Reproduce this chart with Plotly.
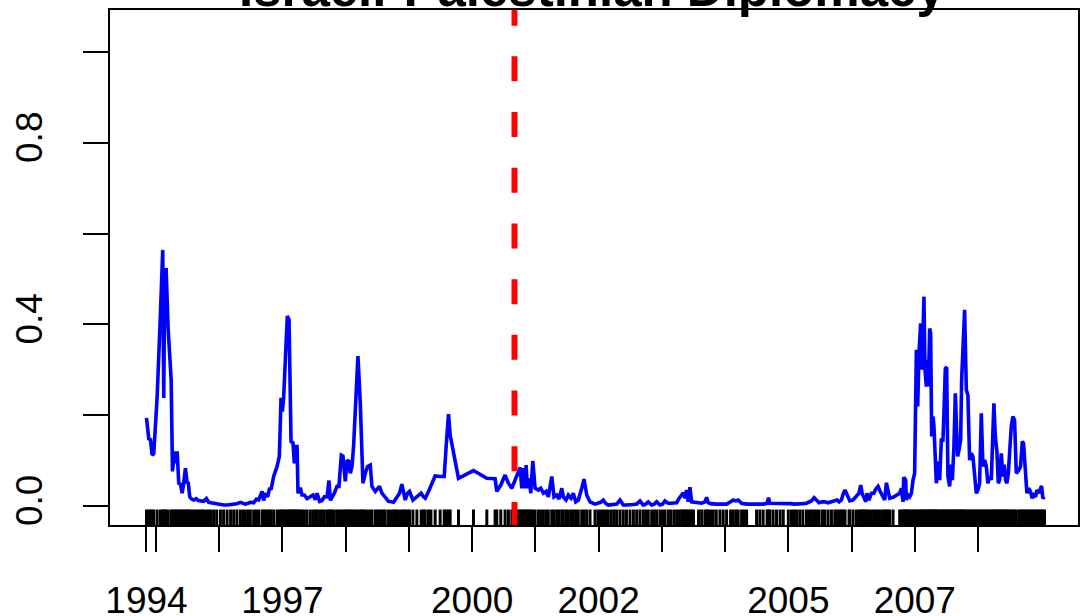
import plotly.graph_objects as go

# ---------------- data (decimal years, estimated probability) ----------------
dates_a = [1994.850, 1994.886, 1994.913, 1994.940, 1994.965, 1995.019, 1995.071, 1995.107, 1995.123, 1995.139,
           1995.161, 1995.193, 1995.240, 1995.261, 1995.292, 1995.313, 1995.335, 1995.360, 1995.387, 1995.414,
           1995.439, 1995.466, 1995.493, 1995.509, 1995.534, 1995.565, 1995.597, 1995.635, 1995.670, 1995.703,
           1995.730, 1995.755, 1995.798, 1995.834, 1995.870, 1995.913, 1995.960, 1996.019, 1996.070, 1996.125,
           1996.180, 1996.229, 1996.280, 1996.335, 1996.375, 1996.414, 1996.455, 1996.493, 1996.545, 1996.588,
           1996.624, 1996.678, 1996.703, 1996.730, 1996.766, 1996.798, 1996.820, 1996.861, 1996.915, 1996.951,
           1996.978, 1996.998, 1997.019, 1997.051, 1997.077, 1997.104, 1997.125, 1997.136, 1997.167, 1997.188,
           1997.209, 1997.231, 1997.246, 1997.283, 1997.310, 1997.346, 1997.389, 1997.441, 1997.483, 1997.520,
           1997.547, 1997.588, 1997.626, 1997.662, 1997.705, 1997.736, 1997.757, 1997.788, 1997.820, 1997.863,
           1997.894, 1997.931, 1997.957, 1997.994, 1998.021, 1998.046, 1998.073, 1998.100, 1998.125, 1998.163,
           1998.194, 1998.231, 1998.257, 1998.273, 1998.310, 1998.346, 1998.389]
values_a = [0.194, 0.148, 0.146, 0.112, 0.115, 0.241, 0.425, 0.564, 0.238, 0.520,
            0.520, 0.388, 0.278, 0.076, 0.120, 0.094, 0.120, 0.050, 0.048, 0.028,
            0.050, 0.083, 0.050, 0.053, 0.020, 0.015, 0.013, 0.016, 0.012, 0.012,
            0.011, 0.010, 0.016, 0.008, 0.007, 0.006, 0.004, 0.002, 0.002, 0.002,
            0.003, 0.004, 0.005, 0.008, 0.005, 0.004, 0.006, 0.008, 0.007, 0.015,
            0.013, 0.032, 0.012, 0.028, 0.020, 0.040, 0.036, 0.065, 0.087, 0.109,
            0.238, 0.208, 0.238, 0.344, 0.418, 0.411, 0.241, 0.142, 0.139, 0.094,
            0.131, 0.131, 0.028, 0.040, 0.024, 0.024, 0.016, 0.020, 0.024, 0.014,
            0.028, 0.010, 0.012, 0.020, 0.020, 0.056, 0.012, 0.020, 0.028, 0.043,
            0.043, 0.112, 0.110, 0.054, 0.098, 0.101, 0.072, 0.087, 0.131, 0.241,
            0.330, 0.227, 0.120, 0.050, 0.072, 0.087, 0.090]

dates_b = [1998.415, 1998.468, 1998.500, 1998.536, 1998.573, 1998.600, 1998.626, 1998.678, 1998.720, 1998.757,
           1998.785, 1998.810, 1998.852, 1998.889, 1998.915, 1998.942, 1998.978, 1999.009, 1999.063, 1999.126,
           1999.194, 1999.231, 1999.258, 1999.310, 1999.348, 1999.415, 1999.494, 1999.558, 1999.589, 1999.626,
           1999.652, 1999.784, 2000.021, 2000.232, 2000.363]
values_b = [0.043, 0.032, 0.038, 0.043, 0.028, 0.024, 0.020, 0.010, 0.009, 0.008,
            0.014, 0.020, 0.028, 0.048, 0.025, 0.013, 0.028, 0.032, 0.013, 0.020,
            0.028, 0.020, 0.017, 0.032, 0.043, 0.066, 0.065, 0.065, 0.131, 0.202,
            0.156, 0.061, 0.078, 0.061, 0.060]

dates_c = [2000.390, 2000.453, 2000.521, 2000.573, 2000.627, 2000.679, 2000.731, 2000.758, 2000.785, 2000.810,
           2000.837, 2000.853, 2000.874, 2000.905, 2000.927, 2000.959, 2000.995, 2001.047, 2001.085, 2001.126,
           2001.169, 2001.205, 2001.259, 2001.295, 2001.338, 2001.374, 2001.417, 2001.442, 2001.485, 2001.521,
           2001.564, 2001.600, 2001.638, 2001.679, 2001.733, 2001.769, 2001.812, 2001.864, 2001.943]
values_c = [0.032, 0.046, 0.068, 0.050, 0.039, 0.057, 0.076, 0.085, 0.039, 0.083,
            0.039, 0.090, 0.039, 0.061, 0.028, 0.099, 0.039, 0.035, 0.039, 0.028,
            0.032, 0.020, 0.065, 0.020, 0.024, 0.015, 0.039, 0.020, 0.013, 0.024,
            0.017, 0.028, 0.009, 0.013, 0.039, 0.059, 0.024, 0.009, 0.004]

dates_d = [2001.990, 2002.030, 2002.074, 2002.110, 2002.153, 2002.200, 2002.245, 2002.286, 2002.338, 2002.390,
           2002.440, 2002.496, 2002.550, 2002.602, 2002.654, 2002.706, 2002.745, 2002.785, 2002.839, 2002.880,
           2002.918, 2002.970, 2003.010, 2003.049, 2003.101, 2003.140, 2003.190, 2003.234, 2003.275, 2003.313,
           2003.338, 2003.365, 2003.392, 2003.417, 2003.444, 2003.471, 2003.500, 2003.580, 2003.629, 2003.681,
           2003.708, 2003.733, 2003.770, 2003.812, 2003.860, 2003.918, 2003.970, 2004.024, 2004.087, 2004.128,
           2004.171, 2004.207, 2004.261, 2004.300, 2004.340, 2004.498, 2004.550, 2004.602, 2004.665, 2004.687,
           2004.708, 2004.760, 2004.814, 2004.870, 2004.920, 2005.000, 2005.050, 2005.090, 2005.130, 2005.180,
           2005.230, 2005.287, 2005.330, 2005.366, 2005.408, 2005.445, 2005.487, 2005.540, 2005.577, 2005.629,
           2005.682, 2005.735, 2005.771, 2005.803, 2005.840, 2005.866, 2005.897, 2005.960, 2005.972, 2006.024,
           2006.077, 2006.118, 2006.145, 2006.172, 2006.193, 2006.224, 2006.245, 2006.276, 2006.314, 2006.351,
           2006.382, 2006.419, 2006.457, 2006.498, 2006.524, 2006.551, 2006.577, 2006.603, 2006.656, 2006.761,
           2006.788, 2006.814, 2006.825, 2006.856, 2006.867, 2006.893, 2006.919, 2006.946, 2006.972, 2006.998]
values_d = [0.006, 0.008, 0.013, 0.006, 0.002, 0.003, 0.003, 0.004, 0.013, 0.002,
            0.002, 0.002, 0.003, 0.004, 0.011, 0.002, 0.004, 0.009, 0.002, 0.004,
            0.009, 0.002, 0.004, 0.011, 0.006, 0.006, 0.007, 0.007, 0.017, 0.024,
            0.029, 0.017, 0.035, 0.009, 0.041, 0.009, 0.008, 0.007, 0.006, 0.009,
            0.019, 0.007, 0.005, 0.004, 0.004, 0.004, 0.004, 0.004, 0.009, 0.013,
            0.011, 0.013, 0.006, 0.005, 0.004, 0.004, 0.004, 0.004, 0.006, 0.018,
            0.006, 0.006, 0.006, 0.006, 0.006, 0.005, 0.005, 0.004, 0.004, 0.005,
            0.005, 0.006, 0.008, 0.011, 0.018, 0.013, 0.007, 0.009, 0.009, 0.007,
            0.009, 0.011, 0.013, 0.009, 0.013, 0.026, 0.035, 0.015, 0.011, 0.013,
            0.020, 0.028, 0.046, 0.025, 0.020, 0.009, 0.028, 0.013, 0.028, 0.028,
            0.037, 0.043, 0.031, 0.020, 0.013, 0.051, 0.035, 0.017, 0.019, 0.028,
            0.039, 0.009, 0.063, 0.057, 0.013, 0.024, 0.020, 0.028, 0.057, 0.072]

dates_e = [2007.025, 2007.046, 2007.066, 2007.093, 2007.114, 2007.130, 2007.145, 2007.161, 2007.183, 2007.204,
           2007.215, 2007.235, 2007.251, 2007.267, 2007.288, 2007.303, 2007.325, 2007.341, 2007.367, 2007.393,
           2007.420, 2007.445, 2007.461, 2007.483, 2007.504, 2007.524, 2007.551, 2007.578, 2007.594, 2007.619,
           2007.641, 2007.657, 2007.678, 2007.698, 2007.725, 2007.741, 2007.762, 2007.788, 2007.815, 2007.840,
           2007.867, 2007.894, 2007.919, 2007.946, 2007.973, 2007.998, 2008.025, 2008.052, 2008.077, 2008.104,
           2008.131, 2008.156, 2008.183, 2008.210, 2008.226, 2008.251, 2008.273, 2008.299, 2008.321, 2008.341,
           2008.368, 2008.393, 2008.415, 2008.436, 2008.457, 2008.479, 2008.499, 2008.526, 2008.551, 2008.578,
           2008.605, 2008.646, 2008.673, 2008.700, 2008.720, 2008.752, 2008.773, 2008.804, 2008.831, 2008.857,
           2008.883, 2008.910, 2008.930, 2008.962, 2008.984, 2009.005, 2009.025, 2009.052]
values_e = [0.344, 0.219, 0.336, 0.402, 0.300, 0.380, 0.461, 0.300, 0.263, 0.322,
            0.263, 0.391, 0.380, 0.153, 0.197, 0.175, 0.087, 0.050, 0.098, 0.057,
            0.145, 0.145, 0.204, 0.303, 0.306, 0.065, 0.043, 0.091, 0.057, 0.131,
            0.248, 0.189, 0.109, 0.123, 0.145, 0.278, 0.351, 0.432, 0.256, 0.244,
            0.101, 0.116, 0.109, 0.072, 0.028, 0.035, 0.050, 0.204, 0.087, 0.101,
            0.087, 0.050, 0.065, 0.057, 0.116, 0.226, 0.153, 0.120, 0.050, 0.057,
            0.116, 0.065, 0.091, 0.057, 0.050, 0.072, 0.116, 0.175, 0.197, 0.189,
            0.072, 0.079, 0.087, 0.142, 0.138, 0.072, 0.028, 0.039, 0.031, 0.017,
            0.024, 0.020, 0.035, 0.028, 0.039, 0.044, 0.017, 0.020]

event_date = 2000.67   # red dashed marker

x_tick_vals = [1994.85, 1995, 1996, 1997, 1998, 1999, 2000, 2001, 2002, 2003, 2004, 2005, 2006, 2007, 2008]
x_tick_text = ["1994", "", "", "1997", "", "", "2000", "", "2002", "", "", "2005", "", "2007", ""]
y_tick_vals = [0.0, 0.2, 0.4, 0.6, 0.8, 1.0]
y_tick_text = ["0.0", "", "0.4", "", "0.8", ""]

title_text = "Israeli-Palestinian Diplomacy"

# ---------------- assemble ----------------
dates = dates_a + dates_b + dates_c + dates_d + dates_e
values = values_a + values_b + values_c + values_d + values_e
assert len(dates) == len(values)

X_RANGE = [1994.273, 2009.581]
Y_RANGE = [-0.042, 1.0925]
rug_top = Y_RANGE[0] + 0.03 * (Y_RANGE[1] - Y_RANGE[0])

rug_x, rug_y = [], []
for d in dates:
    rug_x += [d, d, None]
    rug_y += [Y_RANGE[0], rug_top, None]

FONT = "Liberation Sans, Arial, Helvetica, sans-serif"

fig = go.Figure()
fig.add_trace(go.Scatter(x=rug_x, y=rug_y, mode="lines",
                         line=dict(color="black", width=3), hoverinfo="skip"))
fig.add_trace(go.Scatter(x=dates, y=values, mode="lines",
                         line=dict(color="#0000FF", width=3.6)))
fig.add_trace(go.Scatter(x=[event_date, event_date], y=[-0.0463, 1.4], mode="lines",
                         line=dict(color="#FF0000", width=6, dash="25px,30.7px")))

fig.update_layout(
    width=1081, height=616,
    margin=dict(l=110, r=3, t=10, b=91, autoexpand=False),
    paper_bgcolor="white", plot_bgcolor="white",
    showlegend=False,
    font=dict(family=FONT, color="black", size=37),
)
axis_common = dict(showgrid=False, zeroline=False, showline=True, linecolor="black",
                   linewidth=2, mirror=True, ticks="outside", ticklen=25, tickwidth=2,
                   tickcolor="black", automargin=False,
                   tickfont=dict(family=FONT, size=37, color="black"))
fig.update_xaxes(range=X_RANGE, tickmode="array", tickvals=x_tick_vals, ticktext=x_tick_text,
                 ticklabelstandoff=17, **axis_common)
fig.update_yaxes(range=Y_RANGE, tickmode="array", tickvals=y_tick_vals, ticktext=y_tick_text,
                 tickangle=-90, ticklabelstandoff=26, **axis_common)

fig.add_annotation(text="<b>" + title_text + "</b>", xref="paper", yref="paper",
                   x=0.4975, y=1.042, xanchor="center", yanchor="middle", showarrow=False,
                   font=dict(family=FONT, size=51, color="black"))

fig.write_html("out.html", config={"displayModeBar": False},
               post_script="document.body.style.margin='0px';document.body.style.overflow='hidden';")
